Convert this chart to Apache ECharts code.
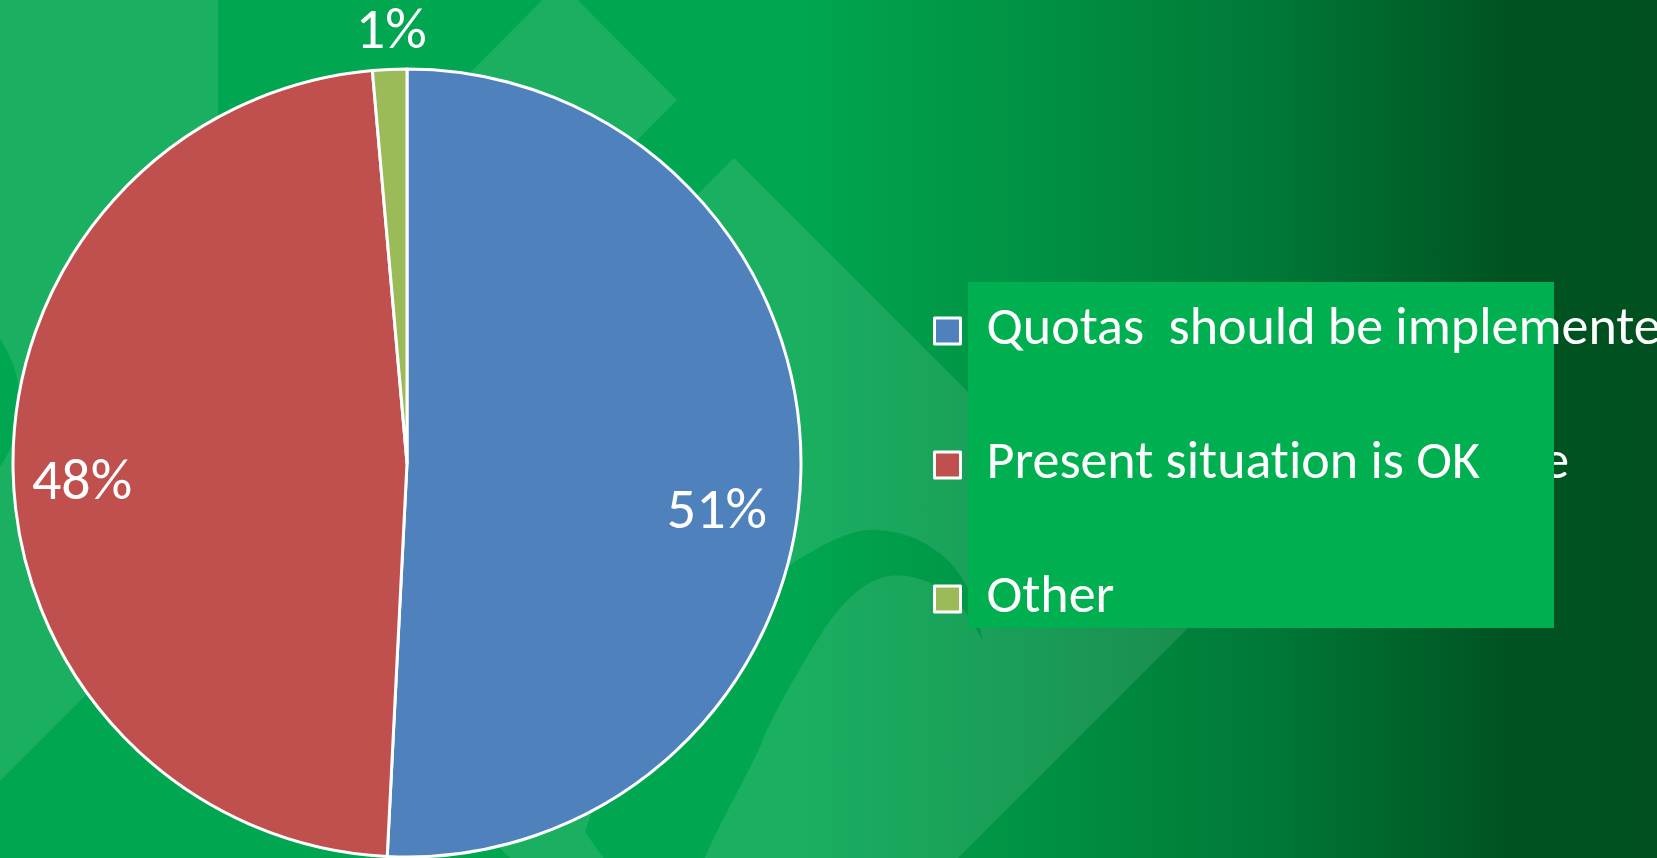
<!DOCTYPE html>
<html>
<head>
<meta charset="utf-8">
<title>Quotas</title>
<script src="https://cdn.jsdelivr.net/npm/echarts@6.0.0/dist/echarts.min.js"></script>
<style>
html, body { margin: 0; padding: 0; overflow: hidden; }
#chart1 { width: 1657px; height: 858px; }
/* no ti-ligature, and sit the text like the slide does */
#chart1 text { font-variant-ligatures: none !important; dominant-baseline: middle !important; }
</style>
</head>
<body>
<div id="chart1"></div>
<script>
var categories = ["Quotas  should be implemented", "Present situation is OK", "Other"];
var shares = [50.8, 47.8, 1.4];
var sliceColors = ["#4F81BD", "#C0504D", "#9BBB59"];

var FONT = "Carlito, Lato, sans-serif";
var FONT_SIZE = 54;
var LABEL_SIZE = 58;

// how far each % label is pushed from the default inside spot
var labelNudge = [[110, 46], [-125, 18.5], [-7, -228.7]];

var bgStops = [
    { offset: 0, color: "#00A650" },
    { offset: 0.48, color: "#00A650" },
    { offset: 0.62, color: "#009244" },
    { offset: 0.76, color: "#007A37" },
    { offset: 0.91, color: "#005321" },
    { offset: 1, color: "#005020" }
];
var bgGradient = { type: "linear", x: 0, y: 0, x2: 1657, y2: 0, global: true, colorStops: bgStops };
var shade = "rgba(255,255,255,0.10)";

// dark swoosh behind the legend
var swoosh = "M 612 870 L 585 832 Q 640 660 793 563 C 830 540 855 528 877 530 " +
    "C 910 532 935 545 955 568 C 972 590 980 615 982 640 " +
    "C 975 625 960 600 943 590 C 925 578 905 574 890 576 " +
    "C 860 580 835 610 813 647 C 790 685 770 720 760 747 " +
    "C 740 790 715 830 700 870 Z";
var swooshEl;
try {
    echarts.graphic.registerShape("swoosh", echarts.graphic.extendPath(swoosh, {}));
    swooshEl = { type: "swoosh", z: -7, style: { fill: bgGradient } };
} catch (err) {
    swooshEl = { type: "polygon", z: -7, style: { fill: bgGradient },
        shape: { points: [[612, 870], [585, 832], [690, 640], [793, 563], [877, 530], [955, 568], [982, 640],
                          [943, 590], [890, 576], [813, 647], [760, 747], [700, 870]] } };
}

var data = categories.map(function (name, i) {
    return { name: name, value: shares[i], itemStyle: { color: sliceColors[i] } };
});

var myChart = echarts.init(document.getElementById("chart1"), null, { renderer: "svg" });
var option = {
    animation: false,
    graphic: [
        { type: "rect", z: -10, shape: { x: 0, y: 0, width: 1657, height: 858 }, style: { fill: bgGradient } },
        { type: "polygon", z: -9, shape: { points: [[0, 0], [218, 0], [218, 563], [0, 781]] }, style: { fill: shade } },
        { type: "circle", z: -8, shape: { cx: -92, cy: 403, r: 112 }, style: { fill: "#00A650" } },
        { type: "polygon", z: -9, shape: { points: [[560, -18], [677, 100], [560, 218], [443, 100]] }, style: { fill: shade } },
        { type: "polygon", z: -9, shape: { points: [[734, 158], [1196, 620], [734, 1082], [272, 620]] }, style: { fill: shade } },
        swooshEl,
        // tail of an older legend line peeking out behind the green box
        { type: "text", z: -5, style: { text: "e", x: 1569, y: 465, align: "right", verticalAlign: "middle",
          fill: "#fff", font: FONT_SIZE + "px " + FONT } },
        { type: "rect", z: 1, shape: { x: 968, y: 282, width: 586, height: 346 }, style: { fill: "#00B050" } }
    ],
    legend: {
        orient: "vertical",
        left: 928,
        top: 299,
        itemWidth: 26,
        itemHeight: 26,
        itemGap: 80,
        icon: "rect",
        itemStyle: { borderColor: "#fff", borderWidth: 3 },
        textStyle: { color: "#fff", fontFamily: FONT, fontSize: FONT_SIZE, padding: [0, 0, 0, 21] },
        data: categories
    },
    series: [{
        type: "pie",
        center: [407, 463],
        radius: 394,
        startAngle: 90,
        clockwise: true,
        avoidLabelOverlap: false,
        itemStyle: { borderColor: "#fff", borderWidth: 3 },
        label: {
            show: true,
            position: "inside",
            color: "#fff",
            fontFamily: FONT,
            fontSize: LABEL_SIZE,
            formatter: function (p) { return Math.round(p.percent) + "%"; }
        },
        labelLine: { show: false },
        labelLayout: function (params) {
            var n = labelNudge[params.dataIndex];
            return { dx: n[0], dy: n[1] };
        },
        emphasis: { disabled: true },
        data: data
    }]
};
myChart.setOption(option);
</script>
</body>
</html>
